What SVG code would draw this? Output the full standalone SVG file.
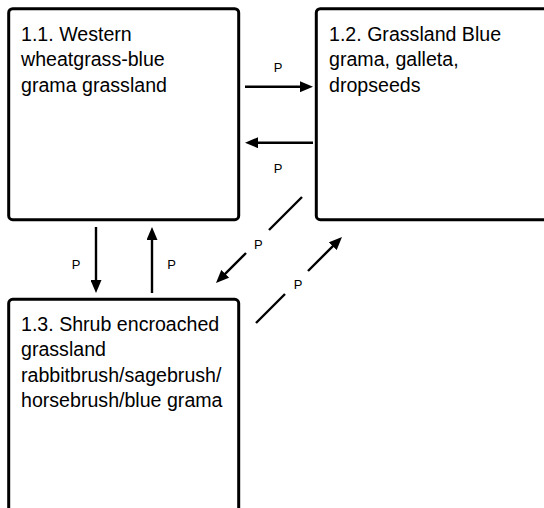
<svg xmlns="http://www.w3.org/2000/svg" width="544" height="508" viewBox="0 0 544 508">
  <defs>
    <marker id="arrow" markerUnits="userSpaceOnUse" markerWidth="13" markerHeight="11" viewBox="0 0 13 11" refX="6.5" refY="5.5" orient="auto">
      <path d="M0,0 L13,5.5 L0,11 z" fill="#000"/>
    </marker>
    <style>
      .box { fill: #fff; stroke: #000; stroke-width: 3; }
      .title { font-family: "Liberation Sans", Arial, sans-serif; font-size: 19.6px; fill: #000; }
      .conn { fill: none; stroke: #000; stroke-width: 2.4; marker-end: url(#arrow); }
      .lbl { font-family: "Liberation Sans", Arial, sans-serif; font-size: 13px; fill: #000; text-anchor: middle; }
    </style>
  </defs>
  <rect width="544" height="508" fill="#fff"/>

  <!-- state boxes -->
  <g id="state-1-1">
    <rect class="box" x="8.7" y="8.7" width="230" height="211" rx="4"/>
    <text class="title" x="21" y="40.7">
      <tspan x="21">1.1. Western</tspan>
      <tspan x="21" dy="25.5">wheatgrass-blue</tspan>
      <tspan x="21" dy="25.5">grama grassland</tspan>
    </text>
  </g>
  <g id="state-1-2">
    <rect class="box" x="316.3" y="8.7" width="240" height="211" rx="4"/>
    <text class="title" x="329" y="40.7">
      <tspan x="329">1.2. Grassland Blue</tspan>
      <tspan x="329" dy="25.5">grama, galleta,</tspan>
      <tspan x="329" dy="25.5">dropseeds</tspan>
    </text>
  </g>
  <g id="state-1-3">
    <rect class="box" x="8.7" y="299.3" width="230" height="230" rx="4"/>
    <text class="title" x="21" y="330.7">
      <tspan x="21">1.3. Shrub encroached</tspan>
      <tspan x="21" dy="25.5">grassland</tspan>
      <tspan x="21" dy="25.5">rabbitbrush/sagebrush/</tspan>
      <tspan x="21" dy="25.5">horsebrush/blue grama</tspan>
    </text>
  </g>

  <!-- transitions -->
  <g id="connectors">
    <path class="conn" d="M245,86.7 L306.5,86.7"/>
    <text class="lbl" x="278" y="71.7">P</text>

    <path class="conn" d="M313,142.7 L251.5,142.7"/>
    <text class="lbl" x="278" y="173.3">P</text>

    <path class="conn" d="M96,227 L96,286.5"/>
    <text class="lbl" x="76" y="269">P</text>

    <path class="conn" d="M152,293 L152,233.5"/>
    <text class="lbl" x="171.5" y="269">P</text>

    <path class="conn" d="M302,197 L269,230 M246,253 L220.6,278.4"/>
    <text class="lbl" x="258.3" y="249">P</text>

    <path class="conn" d="M256,323 L285,294 M308,271 L337.4,241.6"/>
    <text class="lbl" x="298" y="289">P</text>
  </g>
</svg>
